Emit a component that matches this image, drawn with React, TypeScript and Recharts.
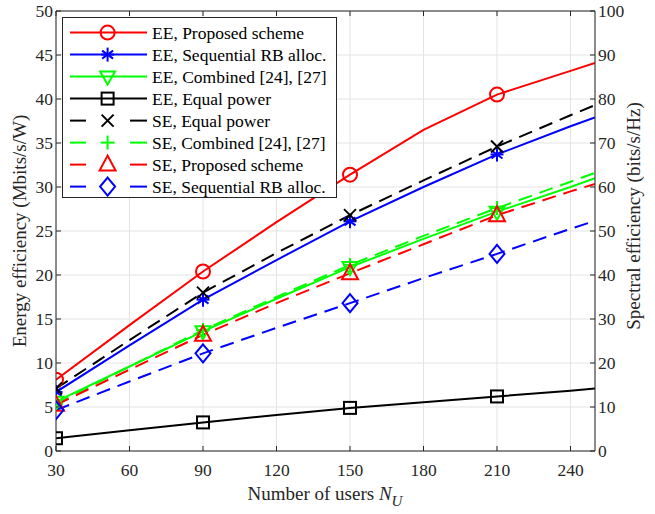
import React from 'react';
import { LineChart, Line, XAxis, YAxis, CartesianGrid, Legend, ReferenceLine } from 'recharts';

const usersN = [30, 60, 90, 120, 150, 180, 210, 240, 250];
const markerN = [30, 90, 150, 210];

const eeProposed = [8.1, 14.3, 20.4, 26.0, 31.4, 36.5, 40.5, 43.2, 44.1];
const eeSequential = [6.7, 12.0, 17.2, 21.7, 26.1, 30.0, 33.7, 36.9, 37.9];
const eeCombined = [5.6, 9.6, 13.6, 17.3, 20.9, 24.1, 27.2, 30.0, 31.0];
const eeEqual = [1.45, 2.35, 3.25, 4.1, 4.9, 5.55, 6.2, 6.85, 7.1];
const seEqual = [14.2, 25.2, 36.0, 45.0, 53.6, 61.5, 69.2, 76.3, 78.6];
const seCombined = [10.7, 19.2, 27.5, 35.0, 42.3, 48.9, 55.2, 61.2, 63.2];
const seProposed = [10.5, 18.5, 26.4, 33.6, 40.4, 47.0, 53.6, 59.0, 60.7];
const seSequential = [9.3, 15.8, 22.2, 28.0, 33.6, 39.3, 44.8, 50.5, 52.3];

const xTicks = [30, 60, 90, 120, 150, 180, 210, 240];
const leftTicks = [0, 5, 10, 15, 20, 25, 30, 35, 40, 45, 50];
const rightTicks = [0, 10, 20, 30, 40, 50, 60, 70, 80, 90, 100];

const data = usersN.map((n, i) => ({
  n,
  eeProposed: eeProposed[i],
  eeSequential: eeSequential[i],
  eeCombined: eeCombined[i],
  eeEqual: eeEqual[i],
  seEqual: seEqual[i],
  seCombined: seCombined[i],
  seProposed: seProposed[i],
  seSequential: seSequential[i],
}));

const FONT = "'Liberation Serif', 'Times New Roman', Times, serif";
const TXT = { fontFamily: FONT } as React.CSSProperties;
const AX = '#262626';
const PLOT_L = 56;
const PLOT_R = 595;
const PLOT_T = 11;
const PLOT_B = 451;
const DASH = '14 8';

type MarkerKind = 'circle' | 'star' | 'tridown' | 'square' | 'x' | 'plus' | 'triup' | 'diamond';

const series: { key: string; name: string; color: string; marker: MarkerKind; dashed: boolean; axis: string }[] = [
  { key: 'eeProposed', name: 'EE, Proposed scheme', color: '#ff0000', marker: 'circle', dashed: false, axis: 'left' },
  { key: 'eeSequential', name: 'EE, Sequential RB alloc.', color: '#0000ff', marker: 'star', dashed: false, axis: 'left' },
  { key: 'eeCombined', name: 'EE, Combined [24], [27]', color: '#00ff00', marker: 'tridown', dashed: false, axis: 'left' },
  { key: 'eeEqual', name: 'EE, Equal power', color: '#000000', marker: 'square', dashed: false, axis: 'left' },
  { key: 'seEqual', name: 'SE, Equal power', color: '#000000', marker: 'x', dashed: true, axis: 'right' },
  { key: 'seCombined', name: 'SE, Combined [24], [27]', color: '#00ff00', marker: 'plus', dashed: true, axis: 'right' },
  { key: 'seProposed', name: 'SE, Proposed scheme', color: '#ff0000', marker: 'triup', dashed: true, axis: 'right' },
  { key: 'seSequential', name: 'SE, Sequential RB alloc.', color: '#0000ff', marker: 'diamond', dashed: true, axis: 'right' },
];

function Marker({ kind, cx, cy, color }: { kind: MarkerKind; cx: number; cy: number; color: string }) {
  const sw = 2;
  const common = { stroke: color, strokeWidth: sw, fill: 'none' };
  switch (kind) {
    case 'circle':
      return <circle cx={cx} cy={cy} r={7} {...common} />;
    case 'star':
      return (
        <g {...common}>
          <line x1={cx} y1={cy - 7} x2={cx} y2={cy + 7} />
          <line x1={cx - 5.5} y1={cy - 4} x2={cx + 5.5} y2={cy + 4} />
          <line x1={cx - 5.5} y1={cy + 4} x2={cx + 5.5} y2={cy - 4} />
          <line x1={cx - 6.5} y1={cy} x2={cx + 6.5} y2={cy} />
        </g>
      );
    case 'tridown':
      return <polygon points={`${cx - 7.5},${cy - 5} ${cx + 7.5},${cy - 5} ${cx},${cy + 8}`} {...common} />;
    case 'square':
      return <rect x={cx - 6} y={cy - 6} width={12} height={12} {...common} />;
    case 'x':
      return (
        <g {...common}>
          <line x1={cx - 6} y1={cy - 6} x2={cx + 6} y2={cy + 6} />
          <line x1={cx - 6} y1={cy + 6} x2={cx + 6} y2={cy - 6} />
        </g>
      );
    case 'plus':
      return (
        <g {...common}>
          <line x1={cx - 7} y1={cy} x2={cx + 7} y2={cy} />
          <line x1={cx} y1={cy - 7} x2={cx} y2={cy + 7} />
        </g>
      );
    case 'triup':
      return <polygon points={`${cx},${cy - 9} ${cx - 8},${cy + 6} ${cx + 8},${cy + 6}`} {...common} />;
    case 'diamond':
      return <polygon points={`${cx},${cy - 9} ${cx + 7.5},${cy} ${cx},${cy + 9} ${cx - 7.5},${cy}`} {...common} />;
  }
  return null;
}

function makeDot(kind: MarkerKind, color: string, key: string) {
  return (props: any) => {
    const { cx, cy, payload, index } = props;
    if (!payload || markerN.indexOf(payload.n) < 0 || cx == null || cy == null) {
      return <g key={`${key}-${index}`} />;
    }
    return (
      <g key={`${key}-${index}`}>
        <Marker kind={kind} cx={cx} cy={cy} color={color} />
      </g>
    );
  };
}

function XTick(props: any) {
  const { x, payload } = props;
  return (
    <g>
      <line x1={x} x2={x} y1={PLOT_B} y2={PLOT_B - 5} stroke={AX} strokeWidth={1} />
      <line x1={x} x2={x} y1={PLOT_T} y2={PLOT_T + 5} stroke={AX} strokeWidth={1} />
      <text x={x} y={PLOT_B + 25} textAnchor="middle" style={TXT} fontSize={17.5} fill={AX}>
        {payload.value}
      </text>
    </g>
  );
}

function LeftTick(props: any) {
  const { y, payload } = props;
  return (
    <g>
      <line x1={PLOT_L} x2={PLOT_L + 5} y1={y} y2={y} stroke={AX} strokeWidth={1} />
      <text x={PLOT_L - 3} y={y + 6} textAnchor="end" style={TXT} fontSize={17.5} fill={AX}>
        {payload.value}
      </text>
    </g>
  );
}

function RightTick(props: any) {
  const { y, payload } = props;
  return (
    <g>
      <line x1={PLOT_R - 5} x2={PLOT_R} y1={y} y2={y} stroke={AX} strokeWidth={1} />
      <text x={PLOT_R + 3} y={y + 6} textAnchor="start" style={TXT} fontSize={17.5} fill={AX}>
        {payload.value}
      </text>
    </g>
  );
}

function LegendBox() {
  const W = 275;
  const H = 181;
  return (
    <svg width={W} height={H} style={{ display: 'block' }}>
      <rect x={0.5} y={0.5} width={W - 1} height={H - 1} fill="#ffffff" stroke={AX} strokeWidth={1} />
      {series.map((s, i) => {
        const cy = 15.6 + i * 22;
        return (
          <g key={s.key}>
            {s.dashed ? (
              <g stroke={s.color} strokeWidth={2}>
                <line x1={8} x2={24} y1={cy} y2={cy} />
                <line x1={68} x2={85} y1={cy} y2={cy} />
              </g>
            ) : (
              <line x1={8} x2={85} y1={cy} y2={cy} stroke={s.color} strokeWidth={2} />
            )}
            <Marker kind={s.marker} cx={45.6} cy={cy} color={s.color} />
            <text x={90} y={cy + 6} style={TXT} fontSize={17.5} fill="#000">
              {s.name}
            </text>
          </g>
        );
      })}
    </svg>
  );
}

export default function App() {
  return (
    <div style={{ position: 'absolute', left: 0, top: 0, width: 655, height: 514, background: '#fff', fontFamily: FONT }}>
      <LineChart width={655} height={514} data={data} margin={{ top: PLOT_T, right: 0, bottom: 0, left: 0 }}>
        <CartesianGrid yAxisId="left" stroke="#e3e3e3" strokeWidth={1} />
        <XAxis
          dataKey="n"
          type="number"
          domain={[30, 250]}
          ticks={xTicks}
          allowDataOverflow
          height={63}
          tickLine={false}
          tickSize={0}
          tickMargin={0}
          axisLine={{ stroke: AX, strokeWidth: 1 }}
          tick={<XTick />}
          label={{
            content: () => (
              <text x={325} y={500} textAnchor="middle" style={TXT} fontSize={19} fill={AX}>
                <tspan>Number of users </tspan>
                <tspan fontStyle="italic">N</tspan>
                <tspan fontStyle="italic" fontSize={15} dy={6}>U</tspan>
              </text>
            ),
          }}
        />
        <YAxis
          yAxisId="left"
          orientation="left"
          width={56}
          domain={[0, 50]}
          ticks={leftTicks}
          allowDataOverflow
          tickLine={false}
          tickSize={0}
          tickMargin={0}
          axisLine={{ stroke: AX, strokeWidth: 1 }}
          tick={<LeftTick />}
          label={{
            content: () => (
              <text x={26} y={231} transform="rotate(-90, 26, 231)" textAnchor="middle" style={TXT} fontSize={19} fill={AX}>
                Energy efficiency (Mbits/s/W)
              </text>
            ),
          }}
        />
        <YAxis
          yAxisId="right"
          orientation="right"
          width={60}
          domain={[0, 100]}
          ticks={rightTicks}
          allowDataOverflow
          tickLine={false}
          tickSize={0}
          tickMargin={0}
          axisLine={{ stroke: AX, strokeWidth: 1 }}
          tick={<RightTick />}
          label={{
            content: () => (
              <text x={640} y={216} transform="rotate(-90, 640, 216)" textAnchor="middle" style={TXT} fontSize={19} fill={AX}>
                Spectral efficiency (bits/s/Hz)
              </text>
            ),
          }}
        />
        <ReferenceLine yAxisId="left" y={50} stroke={AX} strokeWidth={1} />
        {series.map((s) => (
          <Line
            key={s.key}
            yAxisId={s.axis}
            dataKey={s.key}
            name={s.name}
            type="linear"
            stroke={s.color}
            strokeWidth={2}
            strokeDasharray={s.dashed ? DASH : undefined}
            dot={makeDot(s.marker, s.color, s.key)}
            activeDot={false}
            isAnimationActive={false}
          />
        ))}
        <Legend
          layout="vertical"
          align="center"
          verticalAlign="middle"
          content={() => <LegendBox />}
          wrapperStyle={{ top: 17, left: 62, width: 275, height: 181, bottom: 'auto', right: 'auto', margin: 0 }}
        />
      </LineChart>
    </div>
  );
}
